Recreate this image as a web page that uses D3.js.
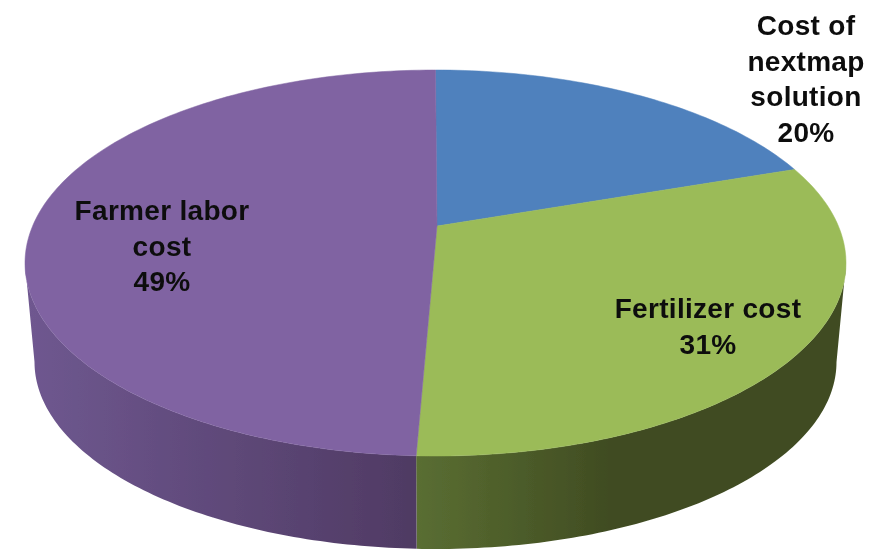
<!DOCTYPE html>
<html>
<head>
<meta charset="utf-8">
<script src="https://d3js.org/d3.v7.min.js"></script>
<style>
  html, body { margin: 0; background: #fff; }
  text { font-family: "Liberation Sans", Arial, sans-serif; font-weight: bold; font-size: 28px; letter-spacing: 0.3px; fill: #111; text-anchor: middle; }
</style>
</head>
<body>
<div id="chart"></div>
<script>
// values
const categories = ["Cost of nextmap solution", "Fertilizer cost", "Farmer labor cost"]
const shares = [20, 31, 49]
const topColors = ["#4f81bd", "#9bbb59", "#8064a2"]
const sideColors = [["#2f4d71", "#2f4d71"], ["#5a6e32", "#404c22"], ["#6f5890", "#4f3a63"]]
const labelLines = [["Cost of", "nextmap", "solution", "20%"], ["Fertilizer cost", "31%"], ["Farmer labor", "cost", "49%"]]

const width = 878
const height = 556

// top face and bottom rim of the disc, the bottom is a bit smaller because of perspective
const topRim = { cx: 435.5, cy: 263, rx: 410.5, ry: 193 }
const bottomRim = { cx: 435.5, cy: 362, rx: 401, ry: 187 }
const tip = [437, 226]

// label anchors, x centre and first baseline
const labelPos = [[806, 35], [708, 318], [162, 220]]
const lineHeight = [35.5, 36, 35.5]

const svg = d3.select("#chart")
    .append("svg")
    .attr("width", width)
    .attr("height", height)

const defs = svg.append("defs")
defs.append("filter").attr("id", "soft")
    .append("feGaussianBlur").attr("stdDeviation", 0.7)
defs.append("filter").attr("id", "softText")
    .append("feGaussianBlur").attr("stdDeviation", 0.6)

// the view is foreshortened so equal shares do not take equal angles on the ellipse
const cumulative = d3.cumsum(shares)
const angle = d3.scaleLinear()
    .domain([0, cumulative[0], cumulative[1], cumulative[2]])
    .range([0, 61, 182.7, 360])

const pieces = shares.map((d, i) => ({
    name: categories[i],
    value: d,
    start: i === 0 ? 0 : cumulative[i - 1],
    end: cumulative[i]
}))

const onRim = (rim, deg) => {
    const a = deg * Math.PI / 180
    return [rim.cx + rim.rx * Math.sin(a), rim.cy - rim.ry * Math.cos(a)]
}
const sweep = (a, b) => d3.range(a, b, 1).concat([b])
const line = d3.line()

const chart = svg.append("g").attr("filter", "url(#soft)")

// side wall, only the front half of the disc shows
pieces.forEach((p, i) => {
    const a = Math.max(angle(p.start), 90)
    const b = Math.min(angle(p.end), 270)
    if (a >= b) return
    const gradId = "side" + i
    const x1 = onRim(topRim, b)[0]
    const x2 = onRim(topRim, a)[0]
    const grad = defs.append("linearGradient").attr("id", gradId)
        .attr("gradientUnits", "userSpaceOnUse")
        .attr("x1", x1).attr("x2", x2)
        .attr("y1", 0).attr("y2", 0)
    grad.append("stop").attr("offset", 0).attr("stop-color", sideColors[i][0])
    // green wall is already dark by about x=610
    grad.append("stop").attr("offset", i === 1 ? 0.45 : 1).attr("stop-color", sideColors[i][1])
    const pts = sweep(a, b).map(d => onRim(topRim, d))
        .concat(sweep(a, b).reverse().map(d => onRim(bottomRim, d)))
    chart.append("path")
        .attr("d", line(pts) + "Z")
        .attr("fill", "url(#" + gradId + ")")
})

// top face
pieces.forEach((p, i) => {
    const pts = [tip].concat(sweep(angle(p.start), angle(p.end)).map(d => onRim(topRim, d)))
    chart.append("path")
        .attr("d", line(pts) + "Z")
        .attr("fill", topColors[i])
        .attr("stroke", topColors[i])
        .attr("stroke-width", 0.5)
})

// labels
const labels = svg.append("g").attr("filter", "url(#softText)")
labelLines.forEach((lines, i) => {
    lines.forEach((t, j) => {
        labels.append("text")
            .attr("x", labelPos[i][0])
            .attr("y", labelPos[i][1] + j * lineHeight[i])
            .text(t)
    })
})
</script>
</body>
</html>
